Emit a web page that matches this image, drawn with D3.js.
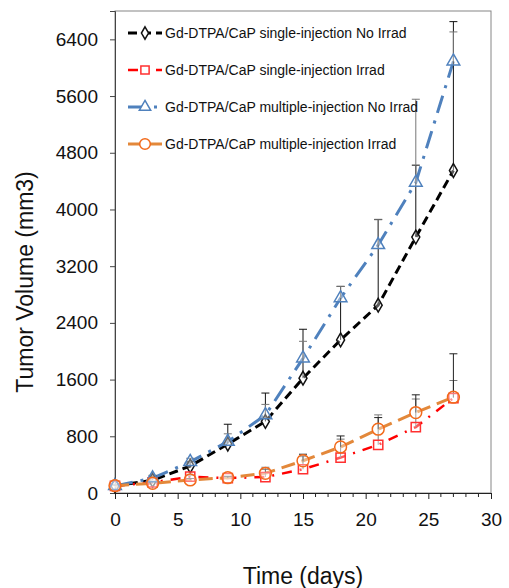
<!DOCTYPE html>
<html><head><meta charset="utf-8">
<script src="https://cdn.jsdelivr.net/npm/d3@7"></script>
<style>
html,body{margin:0;padding:0;background:#fff;}
svg{display:block;font-family:"Liberation Sans",Arial,sans-serif;}
</style></head>
<body>
<svg id="chart" width="509" height="588"></svg>
<script>
const days = [0,3,6,9,12,15,18,21,24,27];
const seriesNames = [
  "Gd-DTPA/CaP single-injection No Irrad",
  "Gd-DTPA/CaP single-injection Irrad",
  "Gd-DTPA/CaP multiple-injection No Irrad",
  "Gd-DTPA/CaP multiple-injection Irrad"
];
const singleNoIrrad    = [100,180,380,690,1010,1620,2160,2650,3610,4550];
const singleNoIrradErr = [20,60,60,280,400,690,755,1210,1015,2100];
const singleIrrad      = [100,150,230,210,225,335,500,680,930,1340];
const singleIrradErr   = [10,20,20,20,138,178,260,422,396,247];
const multiNoIrrad     = [100,210,440,725,1100,1900,2750,3500,4380,6090];
const multiNoIrradErr  = [20,40,50,110,150,240,165,355,1175,415];
const multiIrrad       = [103,137,184,216,278,455,650,900,1135,1352];
const multiIrradErr    = [10,20,20,20,57,92,155,164,250,612];
const yTicks = [0,800,1600,2400,3200,4000,4800,5600,6400];
const xTicks = [0,5,10,15,20,25,30];

const svg = d3.select("#chart");
const L=115, R=491, T=11, B=493;
const x = d3.scaleLinear().domain([0,30]).range([L,R]);
const y = d3.scaleLinear().domain([0,6800]).range([B,T]);

// frame
svg.append("rect").attr("x",L).attr("y",T).attr("width",R-L).attr("height",B-T)
  .attr("fill","none").attr("stroke","#868686").attr("stroke-width",1);

// y axis
const yAxis = d3.axisLeft(y).tickValues(yTicks).tickSize(5).tickPadding(12).tickFormat(d3.format("d"));
const gy = svg.append("g").attr("transform",`translate(${L},0)`).call(yAxis);
gy.select(".domain").attr("stroke","#444");
gy.selectAll(".tick line").attr("stroke","#444");
gy.selectAll("text").attr("font-size",19).attr("fill","#111").attr("font-family","Liberation Sans, Arial");

// x axis
const xAxis = d3.axisBottom(x).tickValues(xTicks).tickSize(6).tickPadding(14).tickFormat(d3.format("d"));
const gx = svg.append("g").attr("transform",`translate(0,${B})`).call(xAxis);
gx.select(".domain").attr("stroke","#222");
gx.selectAll(".tick line").attr("stroke","#222");
gx.selectAll("text").attr("font-size",19).attr("fill","#111").attr("font-family","Liberation Sans, Arial");
const minor = d3.range(0,31).filter(d=>d%5!==0);
svg.append("g").selectAll("line").data(minor).join("line")
  .attr("x1",d=>x(d)).attr("x2",d=>x(d)).attr("y1",B).attr("y2",B+4)
  .attr("stroke","#222").attr("stroke-width",1);

// titles
svg.append("text").attr("x",(L+R)/2).attr("y",584).attr("text-anchor","middle")
  .attr("font-size",23).attr("fill","#111").text("Time (days)");
svg.append("text").attr("transform","translate(33,282) rotate(-90)").attr("text-anchor","middle")
  .attr("font-size",23).attr("fill","#111").text("Tumor Volume (mm3)");

const series = [
  {name:seriesNames[0], vals:singleNoIrrad, err:singleNoIrradErr, color:"#000000", mcolor:"#111", dash:"9,5", w:3, marker:d3.symbolDiamond, msize:55, ecolor:"#111"},
  {name:seriesNames[1], vals:singleIrrad, err:singleIrradErr, color:"#ff0000", mcolor:"#ff3030", dash:"10,8,2,8", w:2.5, marker:d3.symbolSquare, msize:85, ecolor:"#777"},
  {name:seriesNames[2], vals:multiNoIrrad, err:multiNoIrradErr, color:"#4f81bd", mcolor:"#4f81bd", dash:"18,8,3,8", w:3, marker:d3.symbolTriangle, msize:70, ecolor:"#777"},
  {name:seriesNames[3], vals:multiIrrad, err:multiIrradErr, color:"#e3883a", mcolor:"#f26a1b", dash:"14,7", w:3, marker:d3.symbolCircle, msize:110, ecolor:"#222"}
];

const line = d3.line().x(d=>x(d[0])).y(d=>y(d[1]));
const plot = svg.append("g");
// lines
series.forEach(s=>{
  plot.append("path").datum(days.map((d,i)=>[d,s.vals[i]]))
    .attr("d",line).attr("fill","none").attr("stroke",s.color)
    .attr("stroke-width",s.w).attr("stroke-dasharray",s.dash);
});
// error bars (plus direction)
series.forEach(s=>{
  const g = plot.append("g");
  days.forEach((d,i)=>{
    const cx=x(d), y0=y(s.vals[i]), y1=y(s.vals[i]+s.err[i]);
    g.append("line").attr("x1",cx).attr("x2",cx).attr("y1",y0).attr("y2",y1).attr("stroke",s.ecolor).attr("stroke-width",1);
    g.append("line").attr("x1",cx-4).attr("x2",cx+4).attr("y1",y1).attr("y2",y1).attr("stroke",s.ecolor).attr("stroke-width",1);
  });
});
// markers
series.forEach(s=>{
  const sym = d3.symbol().type(s.marker).size(s.msize);
  plot.append("g").selectAll("path").data(days.map((d,i)=>[d,s.vals[i]])).join("path")
    .attr("d",sym).attr("transform",d=>`translate(${x(d[0])},${y(d[1])})`)
    .attr("fill","rgba(255,255,255,0.35)").attr("stroke",s.mcolor).attr("stroke-width",1.5);
});

// legend
const legY = [33,70,107,144];
const leg = svg.append("g");
series.forEach((s,i)=>{
  const ly = legY[i];
  leg.append("line").attr("x1",128).attr("x2",162).attr("y1",ly).attr("y2",ly)
    .attr("stroke",s.color).attr("stroke-width",s.w).attr("stroke-dasharray",s.dash);
  leg.append("path").attr("d",d3.symbol().type(s.marker).size(s.msize*0.8)())
    .attr("transform",`translate(145,${ly})`).attr("fill","#fff").attr("stroke",s.mcolor).attr("stroke-width",1.5);
  leg.append("text").attr("x",165).attr("y",ly).attr("dy","0.36em")
    .attr("font-size",14).attr("fill","#111").text(s.name);
});
</script>
</body></html>
